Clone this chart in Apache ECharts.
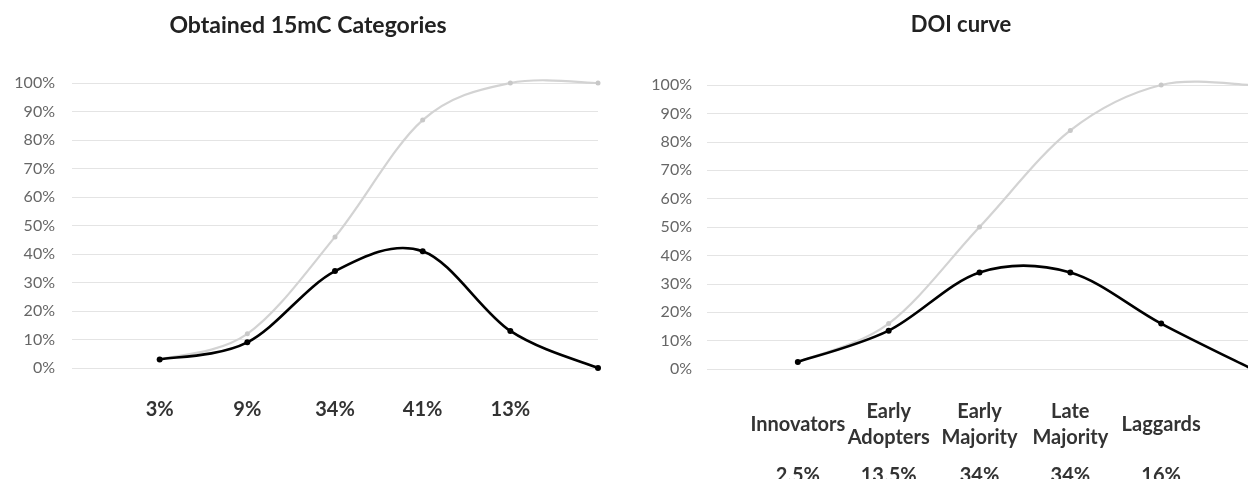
<!DOCTYPE html>
<html>
<head>
<meta charset="utf-8">
<script src="https://cdn.jsdelivr.net/npm/echarts@6/dist/echarts.min.js"></script>
<style>
html,body{margin:0;padding:0;background:#fff;}
#chart{width:1248px;height:479px;}
</style>
</head>
<body>
<div id="chart"></div>
<script>
// ---- data ----
const leftTitle = 'Obtained 15mC Categories';
const rightTitle = 'DOI curve';
const leftCategories = ['', '3%', '9%', '34%', '41%', '13%', ''];
const leftShare = [null, 3, 9, 34, 41, 13, 0];
const leftCumulative = [null, 3, 12, 46, 87, 100, 100];
const rightCategories = ['', 'Innovators', 'Early\nAdopters', 'Early\nMajority', 'Late\nMajority', 'Laggards', ''];
const rightShareLabels = ['', '2.5%', '13.5%', '34%', '34%', '16%', ''];
const rightShare = [null, 2.5, 13.5, 34, 34, 16, 0];
const rightCumulative = [null, 2.5, 16, 50, 84, 100, 100];
const yMin = 0, yMax = 100, yStep = 10;

const FONT = 'Lato, "Open Sans", sans-serif';
const gridColor = '#e4e4e4';

function yAxis(gridIndex, margin) {
  return {
    type: 'value', gridIndex, min: yMin, max: yMax, interval: yStep,
    axisLine: {show: false}, axisTick: {show: false},
    axisLabel: {formatter: '{value}%', color: '#666', fontFamily: FONT, fontSize: 16, margin},
    splitLine: {show: true, lineStyle: {color: gridColor, width: 1}}
  };
}
function xAxis(gridIndex, data, opts) {
  return Object.assign({
    type: 'category', gridIndex, data, boundaryGap: false, position: 'bottom',
    axisLine: {show: false}, axisTick: {show: false}, splitLine: {show: false}
  }, opts);
}

// Smoothed line (Excel-like Catmull-Rom) drawn via the axes' scales
function smoothSeries(xIdx, yIdx, values, color, width, markerColor, markerSize, z) {
  const data = [];
  values.forEach((v, i) => { if (v !== null) data.push([i, v]); });
  return {
    type: 'custom', xAxisIndex: xIdx, yAxisIndex: yIdx, z, data, clip: false,
    renderItem: function (params, api) {
      const k = params.dataIndex;
      const P = data.map(d => api.coord(d));
      const children = [];
      if (k < P.length - 1) {
        const p0 = P[Math.max(k - 1, 0)], p1 = P[k], p2 = P[k + 1], p3 = P[Math.min(k + 2, P.length - 1)];
        children.push({
          type: 'bezierCurve',
          shape: {
            x1: p1[0], y1: p1[1], x2: p2[0], y2: p2[1],
            cpx1: p1[0] + (p2[0] - p0[0]) / 6, cpy1: p1[1] + (p2[1] - p0[1]) / 6,
            cpx2: p2[0] - (p3[0] - p1[0]) / 6, cpy2: p2[1] - (p3[1] - p1[1]) / 6
          },
          style: {stroke: color, lineWidth: width, fill: null, lineCap: 'round'}
        });
      }
      children.push({
        type: 'circle', z2: 10,
        shape: {cx: P[k][0], cy: P[k][1], r: markerSize / 2},
        style: {fill: markerColor, stroke: null}
      });
      return {type: 'group', children};
    }
  };
}

const chart = echarts.init(document.getElementById('chart'), null, {renderer: 'canvas'});
chart.setOption({
  animation: false,
  backgroundColor: '#fff',
  title: [
    {text: leftTitle, left: 303, top: 9, textAlign: 'center',
     textStyle: {fontFamily: FONT, fontWeight: 'bold', fontSize: 23, color: '#222'}},
    {text: rightTitle, left: 956, top: 9, textAlign: 'center',
     textStyle: {fontFamily: FONT, fontWeight: 'bold', fontSize: 22, color: '#222'}}
  ],
  grid: [
    {left: 72, top: 83, width: 526, height: 285, outerBoundsMode: 'none', containLabel: false},
    {left: 707, top: 85, width: 545, height: 284, outerBoundsMode: 'none', containLabel: false}
  ],
  xAxis: [
    xAxis(0, leftCategories, {axisLabel: {color: '#333', fontFamily: FONT, fontWeight: 'bold', fontSize: 20, margin: 42, verticalAlign: 'middle', interval: 0}}),
    xAxis(1, rightCategories, {axisLabel: {color: '#333', fontFamily: FONT, fontWeight: 'bold', fontSize: 20, lineHeight: 26, margin: 56, verticalAlign: 'middle', interval: 0}}),
    xAxis(1, rightShareLabels, {axisLabel: {color: '#333', fontFamily: FONT, fontWeight: 'bold', fontSize: 20, margin: 107, verticalAlign: 'middle', interval: 0}})
  ],
  yAxis: [yAxis(0, 17), yAxis(1, 15)],
  series: [
    smoothSeries(0, 0, leftCumulative, '#d3d3d3', 2.2, '#c8c8c8', 5, 2),
    smoothSeries(0, 0, leftShare, '#000', 2.6, '#000', 6, 3),
    smoothSeries(1, 1, rightCumulative, '#d3d3d3', 2.2, '#c8c8c8', 5, 2),
    smoothSeries(1, 1, rightShare, '#000', 2.6, '#000', 6, 3)
  ]
});
</script>
</body>
</html>
